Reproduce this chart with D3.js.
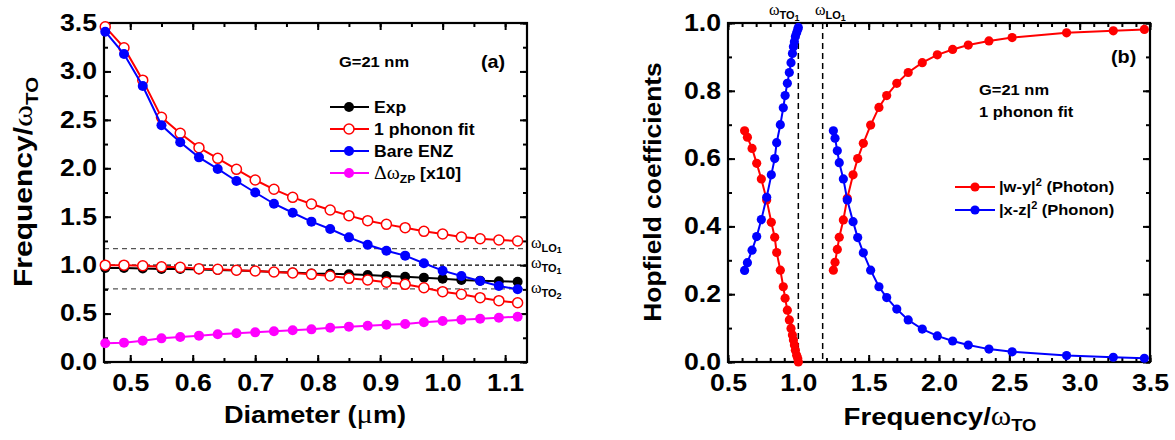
<!DOCTYPE html>
<html>
<head>
<meta charset="utf-8">
<script src="https://cdn.jsdelivr.net/npm/d3@7"></script>
<style>
  body { margin: 0; background: #fff; }
  text { font-family: "Liberation Sans", Arial, sans-serif; font-weight: bold; fill: #000; }
  .serif { font-family: "Liberation Serif", "Times New Roman", serif; font-weight: normal; }
</style>
</head>
<body>
<svg id="chart" width="1175" height="440"></svg>
<script>
// ---- panel (a) data : frequency / wTO vs diameter (um)
var diameter = [0.46, 0.49, 0.52, 0.55, 0.58, 0.61, 0.64, 0.67, 0.70, 0.73, 0.76, 0.79,
                0.82, 0.85, 0.88, 0.91, 0.94, 0.97, 1.00, 1.03, 1.06, 1.09, 1.12];
var expFreq = [0.97, 0.97, 0.965, 0.96, 0.96, 0.955, 0.95, 0.945, 0.94, 0.93, 0.925, 0.915,
               0.91, 0.905, 0.898, 0.888, 0.881, 0.871, 0.86, 0.847, 0.84, 0.833, 0.829];
var fitUpper = [3.46, 3.245, 2.91, 2.526, 2.361, 2.213, 2.103, 1.989, 1.879, 1.783, 1.70, 1.631,
                1.569, 1.511, 1.459, 1.421, 1.387, 1.349, 1.322, 1.29, 1.273, 1.26, 1.249];
var fitLower = [1.0, 1.0, 0.994, 0.984, 0.977, 0.963, 0.957, 0.947, 0.939, 0.929, 0.919, 0.905,
                0.888, 0.864, 0.847, 0.823, 0.802, 0.767, 0.726, 0.699, 0.664, 0.633, 0.612];
var bareENZ = [3.41, 3.18, 2.85, 2.444, 2.268, 2.113, 1.993, 1.869, 1.75, 1.634, 1.541, 1.449,
               1.373, 1.287, 1.21, 1.149, 1.098, 1.02, 0.943, 0.888, 0.836, 0.785, 0.751];
var zpShift = [0.193, 0.20, 0.22, 0.244, 0.258, 0.272, 0.286, 0.296, 0.306, 0.317, 0.327, 0.337,
               0.354, 0.365, 0.375, 0.385, 0.392, 0.41, 0.423, 0.437, 0.447, 0.457, 0.468];
var refLevels = [1.17, 1.0, 0.754];   // wLO1, wTO1, wTO2
var refNames = [["LO", "1"], ["TO", "1"], ["TO", "2"]];

// ---- panel (b) data : Hopfield coefficients vs frequency / wTO
var freqLow = [0.618, 0.638, 0.671, 0.704, 0.737, 0.775, 0.808, 0.832, 0.846, 0.872, 0.893,
               0.906, 0.922, 0.936, 0.948, 0.958, 0.965, 0.972, 0.979, 0.988, 0.996, 1.0];
var photonLow = [0.682, 0.663, 0.630, 0.586, 0.540, 0.478, 0.412, 0.368, 0.323, 0.271, 0.222,
                 0.188, 0.153, 0.124, 0.099, 0.080, 0.065, 0.050, 0.035, 0.020, 0.010, 0.0];
var phononLow = [0.270, 0.293, 0.330, 0.370, 0.420, 0.486, 0.552, 0.600, 0.647, 0.700, 0.750,
                 0.786, 0.822, 0.854, 0.883, 0.910, 0.930, 0.945, 0.960, 0.971, 0.981, 0.987];
var freqHigh = [1.249, 1.261, 1.277, 1.291, 1.32, 1.348, 1.389, 1.422, 1.462, 1.514, 1.573, 1.628,
                1.70, 1.781, 1.881, 1.988, 2.097, 2.208, 2.355, 2.52, 2.907, 3.239, 3.46];
var photonHigh = [0.271, 0.294, 0.332, 0.368, 0.419, 0.483, 0.552, 0.60, 0.645, 0.699, 0.751, 0.786,
                  0.822, 0.854, 0.883, 0.906, 0.922, 0.935, 0.947, 0.957, 0.971, 0.977, 0.981];
var phononHigh = [0.682, 0.66, 0.623, 0.588, 0.54, 0.478, 0.414, 0.367, 0.322, 0.271, 0.222, 0.19,
                  0.156, 0.124, 0.097, 0.077, 0.062, 0.05, 0.038, 0.03, 0.019, 0.014, 0.011];
var modeLines = [1.0, 1.173];          // wTO1, wLO1

var RED = "#ff0000", BLUE = "#0000ff", MAGENTA = "#ff00ff";
var svg = d3.select("#chart");

var xA = d3.scaleLinear().domain([0.458, 1.135]).range([104, 527]);
var yA = d3.scaleLinear().domain([0, 3.5]).range([362, 23]);
var xB = d3.scaleLinear().domain([0.5, 3.5]).range([728, 1150]);
var yB = d3.scaleLinear().domain([0, 1]).range([362, 23]);

function inDomain(s, v){
    var d = s.domain();
    return v >= d[0] - 1e-9 && v <= d[1] + 1e-9;
}

// one axis side: majors (maybe labelled) + minors, ticks pointing inward
function side(axisFn, scale, pos, major, minor, labelled, pad){
    var g = svg.append("g").attr("transform", pos);
    g.call(axisFn(scale).tickValues(minor.filter(function(v){return inDomain(scale, v)}))
        .tickSizeInner(-4).tickSizeOuter(0).tickFormat(""));
    g.select(".domain").remove();
    var m = svg.append("g").attr("transform", pos);
    m.call(axisFn(scale).tickValues(major.filter(function(v){return inDomain(scale, v)}))
        .tickSizeInner(-7).tickSizeOuter(0).tickPadding(pad)
        .tickFormat(labelled ? d3.format(".1f") : ""));
    m.select(".domain").remove();
    svg.selectAll(".tick line").attr("stroke", "#000").attr("stroke-width", 2);
    m.selectAll("text")
        .style("font-family", "'Liberation Sans', Arial, sans-serif")
        .style("font-weight", "bold")
        .style("font-size", "23px")
        .attr("transform", "scale(1.16,1)");
}

function frame(x, y, xMajor, xMinor, yMajor, yMinor){
    var x0 = x.range()[0], x1 = x.range()[1], y0 = y.range()[0], y1 = y.range()[1];
    side(d3.axisBottom, x, "translate(0," + y0 + ")", xMajor, xMinor, true, 13);
    side(d3.axisTop, x, "translate(0," + y1 + ")", xMajor, xMinor, false, 3);
    side(d3.axisLeft, y, "translate(" + x0 + ",0)", yMajor, yMinor, true, 6);
    side(d3.axisRight, y, "translate(" + x1 + ",0)", yMajor, yMinor, false, 3);
    svg.append("rect")
        .attr("x", x0).attr("y", y1)
        .attr("width", x1 - x0).attr("height", y0 - y1)
        .attr("fill", "none").attr("stroke", "#000").attr("stroke-width", 2.2);
}

function series(xs, ys, x, y, color, open, r){
    var pts = xs.map(function(v, i){ return [v, ys[i]]; });
    var g = svg.append("g");
    g.append("path").datum(pts)
        .attr("fill", "none").attr("stroke", color).attr("stroke-width", 2)
        .attr("d", d3.line().x(function(d){return x(d[0])}).y(function(d){return y(d[1])}));
    g.selectAll("circle").data(pts).enter().append("circle")
        .attr("cx", function(d){return x(d[0])})
        .attr("cy", function(d){return y(d[1])})
        .attr("r", r)
        .attr("fill", open ? "#fff" : color)
        .attr("stroke", color)
        .attr("stroke-width", open ? 1.5 : 0);
}

// text with optional serif / subscript parts, stretched a little like the original
function label(x, y, size, parts, rot, anchor, sx){
    var t = svg.append("text")
        .attr("transform", "translate(" + x + "," + y + ")" + (rot ? " rotate(" + rot + ")" : "") + " scale(" + (sx || 1.1) + ",1)")
        .attr("text-anchor", anchor || "start")
        .style("font-size", size + "px");
    parts.forEach(function(p){
        var s = t.append("tspan").text(p.t);
        if (p.serif) s.attr("class", "serif");
        if (p.size) s.style("font-size", p.size + "px");
        if (p.dy) s.attr("dy", p.dy);
    });
    return t;
}

function omega(x, y, size, sub, subsub){
    label(x, y, size, [
        {t: "\u03c9", serif: true},
        {t: sub, size: Math.round(size * 0.7), dy: size * 0.26},
        {t: subsub, size: Math.round(size * 0.55), dy: size * 0.1}
    ], 0, "start", 1.0);
}

// ================= panel (a)
// reference dashed levels
var labelShift = [-1, 3, 4];
refLevels.forEach(function(v, i){
    svg.append("line")
        .attr("x1", xA.range()[0]).attr("x2", xA.range()[1])
        .attr("y1", yA(v)).attr("y2", yA(v))
        .attr("stroke", i == 1 ? "#000" : "#555")
        .attr("stroke-width", 1.2)
        .attr("stroke-dasharray", i == 1 ? "4,3" : "5,4");
    omega(xA.range()[1] + 4, yA(v) + labelShift[i], 16, refNames[i][0], refNames[i][1]);
});

frame(xA, yA, d3.range(0.5, 1.15, 0.1), d3.range(0.45, 1.15, 0.05),
      d3.range(0, 3.55, 0.5), d3.range(0, 3.55, 0.25));

series(diameter, expFreq, xA, yA, "#000", false, 5);
series(diameter, fitUpper, xA, yA, RED, true, 5);
series(diameter, fitLower, xA, yA, RED, true, 5);
series(diameter, bareENZ, xA, yA, BLUE, false, 5);
series(diameter, zpShift, xA, yA, MAGENTA, false, 5);

label(339, 67, 15, [{t: "G=21 nm"}]);
label(481, 68, 18, [{t: "(a)"}]);

// legend (a)
var legA = [
    {c: "#000", open: false, parts: [{t: " Exp"}]},
    {c: RED, open: true, parts: [{t: "1 phonon fit"}]},
    {c: BLUE, open: false, parts: [{t: "Bare ENZ"}]},
    {c: MAGENTA, open: false, parts: [{t: "\u0394\u03c9", serif: true, size: 18}, {t: "ZP", size: 11, dy: 4}, {t: " [x10]", dy: -4}]}
];
legA.forEach(function(d, i){
    var yy = 107 + i * 22;
    svg.append("line").attr("x1", 330).attr("x2", 369).attr("y1", yy).attr("y2", yy)
        .attr("stroke", d.c).attr("stroke-width", 2);
    svg.append("circle").attr("cx", 349).attr("cy", yy).attr("r", 5)
        .attr("fill", d.open ? "#fff" : d.c).attr("stroke", d.c).attr("stroke-width", d.open ? 1.5 : 0);
    label(374, yy + 6, 16, d.parts);
});

label(32, 182, 25, [{t: "Frequency/"}, {t: "\u03c9", serif: true, size: 28}, {t: "TO", size: 17, dy: 6}], -90, "middle", 1.2);
label(315, 423, 24, [{t: "Diameter ("}, {t: "\u03bc", serif: true, size: 27}, {t: "m)"}], 0, "middle", 1.13);

// ================= panel (b)
modeLines.forEach(function(v){
    svg.append("line")
        .attr("x1", xB(v)).attr("x2", xB(v))
        .attr("y1", yB.range()[1]).attr("y2", yB.range()[0])
        .attr("stroke", "#000").attr("stroke-width", 1.5)
        .attr("stroke-dasharray", "6,4");
});
omega(769, 15, 16, "TO", "1");
omega(815, 15, 16, "LO", "1");

frame(xB, yB, d3.range(0.5, 3.55, 0.5), d3.range(0.5, 3.55, 0.1),
      d3.range(0, 1.05, 0.2), d3.range(0, 1.05, 0.1));

series(freqLow, photonLow, xB, yB, RED, false, 4.6);
series(freqLow, phononLow, xB, yB, BLUE, false, 4.6);
series(freqHigh, photonHigh, xB, yB, RED, false, 4.6);
series(freqHigh, phononHigh, xB, yB, BLUE, false, 4.6);

label(1111, 63, 18, [{t: "(b)"}]);
label(979, 95, 15, [{t: "G=21 nm"}]);
label(979, 117, 15, [{t: "1 phonon fit"}]);

var legB = [
    {c: RED, parts: [{t: "|w-y|"}, {t: "2", size: 10, dy: -6}, {t: " (Photon)", dy: 6}]},
    {c: BLUE, parts: [{t: "|x-z|"}, {t: "2", size: 10, dy: -6}, {t: " (Phonon)", dy: 6}]}
];
legB.forEach(function(d, i){
    var yy = 187 + i * 23;
    svg.append("line").attr("x1", 955).attr("x2", 995).attr("y1", yy).attr("y2", yy)
        .attr("stroke", d.c).attr("stroke-width", 2);
    svg.append("circle").attr("cx", 975).attr("cy", yy).attr("r", 4.6).attr("fill", d.c);
    label(999, yy + 5, 15, d.parts);
});

label(661, 192, 24, [{t: "Hopfield coefficients"}], -90, "middle");
label(940, 425, 24, [{t: "Frequency/"}, {t: "\u03c9", serif: true, size: 27}, {t: "TO", size: 16, dy: 6}], 0, "middle", 1.15);
</script>
</body>
</html>
